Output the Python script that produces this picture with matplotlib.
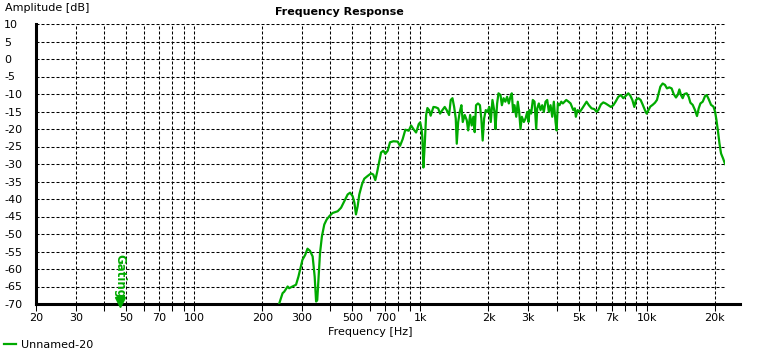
import matplotlib
matplotlib.use("Agg")
import matplotlib.pyplot as plt

# Frequency response
freq_hz = [
    236, 246, 250, 259, 263, 272, 282, 289, 301, 310, 317, 325, 334, 341, 346, 350,
    355, 360, 367, 376, 385, 396, 409, 431, 446, 461, 477, 489, 502, 511, 519, 528,
    537, 552, 565, 585, 605, 619, 632, 643, 650,
    659, 670, 686, 700, 717, 734, 760, 793, 813, 835, 858, 888, 910, 931, 957, 970,
    983, 998, 1012, 1020, 1031, 1045, 1060, 1074, 1093, 1110, 1142, 1169, 1198, 1222,
    1251, 1281, 1307, 1339, 1362, 1386, 1410, 1433, 1448, 1469, 1493, 1518, 1539, 1571,
    1603, 1626, 1659, 1686, 1715, 1738, 1762, 1797, 1833, 1859, 1885, 1913, 1945, 1980,
    2015, 2047, 2082,
    2125, 2146, 2184, 2214, 2260, 2292, 2332, 2374, 2416, 2460, 2500, 2535, 2570, 2606,
    2652, 2695, 2733, 2770, 2808, 2866, 2916, 2967, 3006, 3036, 3088, 3140, 3195, 3250,
    3284, 3338, 3396, 3455, 3512, 3573, 3636, 3696, 3760, 3826, 3889, 3957, 3998, 4051,
    4121, 4194, 4262, 4337, 4413, 4518, 4611,
    4738, 4816, 4866, 4951, 5069, 5194, 5301, 5426, 5555, 5710, 5870, 6009, 6113, 6277,
    6432, 6585, 6768, 6950, 7123, 7291, 7495, 7696, 7887, 8098, 8299, 8471, 8645, 8823,
    8969, 9190, 9408, 9601, 9829, 10000,
    10380, 10630, 10882, 11107, 11301, 11498, 11771, 12050, 12300, 12600, 12899, 13166,
    13479, 13714, 13953, 14183, 14430, 14682, 15031, 15339, 15610, 15979, 16359, 16698,
    16989, 17285, 17696, 18116, 18432, 18810, 19257, 19733, 20059, 20347, 20684, 20981,
    21327, 21764, 22215,
]
amp_db = [
    -70.5, -66.9, -66.5, -65.0, -65.5, -65.0, -64.5, -62.2, -57.4, -55.9, -54.2, -54.8, -56.4, -62.2, -69.3, -68.9,
    -62.2, -55.5, -50.7, -47.3, -45.9, -44.9, -44.0, -43.5, -42.5, -40.6, -38.7, -38.2, -39.2, -41.1, -44.4, -42.1,
    -38.7, -35.8, -34.2, -33.4, -32.7, -33.0, -34.6, -32.5, -31.0,
    -29.0, -26.7, -26.2, -27.1, -26.2, -23.8, -23.5, -23.6, -24.8, -22.9, -20.2, -20.5, -19.0, -20.0, -21.0, -19.9,
    -18.6, -18.1, -20.0, -22.3, -31.0, -24.7, -16.0, -14.0, -14.6, -16.2, -13.7, -13.8, -14.1, -15.6,
    -14.6, -13.7, -14.6, -16.0, -11.7, -11.2, -13.7, -17.0, -24.2, -18.0, -15.1, -13.2, -18.0, -16.0,
    -17.5, -20.4, -16.0, -19.0, -16.5, -20.9, -13.2, -12.7, -13.2, -17.0, -23.3, -17.0, -14.6, -15.1,
    -13.7, -18.0, -11.7,
    -15.1, -20.0, -12.7, -9.8, -10.3, -13.2, -11.2, -12.2, -10.8, -12.7, -10.8, -9.8, -15.1, -13.2,
    -16.5, -12.2, -15.1, -20.0, -16.5, -18.0, -17.0, -15.1, -18.0, -14.6, -15.6, -11.7, -12.2, -20.0,
    -14.1, -12.7, -14.6, -13.2, -15.1, -12.2, -11.7, -15.1, -13.2, -16.5, -12.2, -18.0, -20.4, -12.7,
    -13.2, -12.2, -12.7, -12.2, -11.7, -12.2, -12.7,
    -14.6, -14.1, -16.5, -14.6, -15.1, -14.1, -13.2, -12.2, -13.2, -14.1, -14.3, -15.1, -14.6, -13.0,
    -12.4, -12.7, -13.2, -13.7, -13.2, -12.2, -10.8, -10.3, -11.2, -10.5, -9.8, -10.5, -11.7, -13.7,
    -11.7, -11.2, -11.7, -13.0, -14.6, -15.6,
    -13.6, -13.1, -12.5, -11.7, -9.8, -7.9, -7.0, -7.4, -8.4, -8.1, -8.4, -10.0,
    -11.0, -10.3, -8.7, -10.3, -11.2, -10.0, -9.8, -10.8, -12.5, -13.1, -14.6, -16.3,
    -14.1, -12.7, -12.2, -10.6, -10.3, -11.5, -13.1, -13.6, -15.0, -17.4, -20.8, -24.1,
    -27.0, -28.4, -30.0,
]

x_major = [20, 30, 50, 70, 100, 200, 300, 500, 700, 1000, 2000, 3000, 5000, 7000, 10000, 20000]
x_major_labels = ["20", "30", "50", "70", "100", "200", "300", "500", "700",
                  "1k", "2k", "3k", "5k", "7k", "10k", "20k"]
x_minor = [40, 60, 80, 90, 400, 600, 800, 900, 4000, 6000, 8000, 9000]
y_ticks = list(range(-70, 15, 5))
gating_hz = 47

green = "#00AA00"
plt.rcParams["font.family"] = ["DejaVu Sans"]
plt.rcParams["font.size"] = 8

fig = plt.figure(figsize=(7.75, 3.54), dpi=100)
W, H = 775, 354
ax = fig.add_axes([36 / W, 1 - 304 / H, (725 - 36) / W, (304 - 24) / H])

line, = ax.plot(freq_hz, amp_db, color=green, lw=1.6, label="Unnamed-20", zorder=3)

ax.set_xscale("log")
ax.set_xlim(20, 22200)
ax.set_ylim(-70, 10)
ax.set_xticks(x_major, x_major_labels)
ax.set_xticks(x_minor, [""] * len(x_minor), minor=True)
ax.set_yticks(y_ticks, [str(v) for v in y_ticks])

dash = (0, (2.9, 1.9))
ax.grid(True, which="both", color="black", lw=0.75, linestyle=dash)
ax.set_axisbelow(True)

for s in ["top", "right"]:
    ax.spines[s].set_visible(False)
ax.spines["left"].set_linewidth(2.2)
ax.spines["bottom"].set_linewidth(2.2)
ax.spines["bottom"].set_bounds(20, 25800)

ax.tick_params(axis="x", which="both", direction="out", length=5, width=0.75, pad=1.5)
ax.tick_params(axis="y", length=0, pad=23)
for lab in ax.get_yticklabels():
    lab.set_horizontalalignment("left")

# gating marker
ax.plot([gating_hz], [-69.3], marker="v", color=green, ms=7, clip_on=False, zorder=4)
ax.text(gating_hz, -68.3, "Gating", rotation=270, color=green, ha="center", va="bottom",
        fontsize=8.5, fontweight="bold", zorder=4)

fig.text(339 / W, 1 - 12 / H, "Frequency Response", ha="center", va="center",
         fontweight="bold", fontsize=8)
fig.text(5 / W, 1 - 8 / H, "Amplitude [dB]", ha="left", va="center")
fig.text(370 / W, 1 - 332 / H, "Frequency [Hz]", ha="center", va="center")

fig.legend(handles=[line], loc="lower left", bbox_to_anchor=(0.0, 0.0), frameon=False,
           handlelength=1.1, handletextpad=0.4, borderaxespad=0.15, borderpad=0.2, fontsize=8)

fig.savefig("out.png", dpi=100, facecolor="white")
